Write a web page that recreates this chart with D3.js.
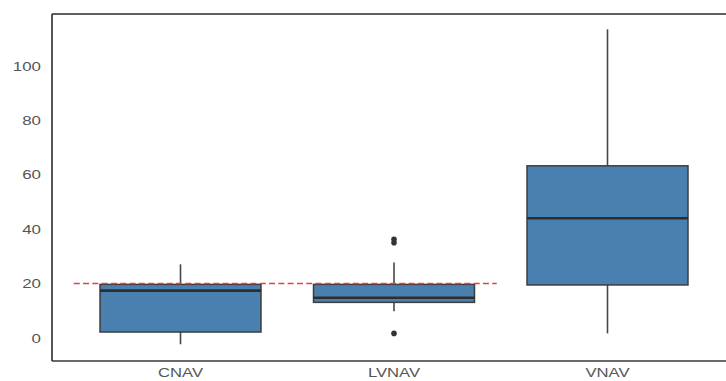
<!DOCTYPE html>
<html>
<head>
<meta charset="utf-8">
<script src="https://cdn.jsdelivr.net/npm/d3@7/dist/d3.min.js"></script>
<style>
  html, body { margin: 0; padding: 0; background: #fff; }
  svg { display: block; }
  text { font-family: "Liberation Sans", Arial, sans-serif; fill: #555; }
</style>
</head>
<body>
<script>
// Box-plot summaries per approach type
const categories = ["CNAV", "LVNAV", "VNAV"];
const whiskerLow  = [-2.3, 9.8, 1.7];
const q1          = [2.2, 13.1, 19.5];
const median      = [17.4, 14.8, 44.0];
const q3          = [19.7, 19.7, 63.3];
const whiskerHigh = [27.1, 27.8, 113.5];
const outliers    = [[], [1.7, 35.0, 36.3], []];
const yTicks      = [0, 20, 40, 60, 80, 100];
const threshold   = 20;
const thresholdCats = ["CNAV", "LVNAV"];

const W = 726, H = 381;
const frame = { left: 52, top: 14, bottom: 361, right: 726 };

const svg = d3.select("body").append("svg")
  .attr("width", W).attr("height", H);

const x = d3.scaleBand().domain(categories).range([73.75, 714.25]).padding(0);
const y = d3.scaleLinear().domain([0, 100]).range([338, 66]);

const boxW = x.bandwidth() * 0.754;

// widen label glyphs slightly (wide sans look)
function stretch(sel, k) {
  sel.each(function () {
    const w = this.getComputedTextLength();
    d3.select(this).attr("textLength", w * k).attr("lengthAdjust", "spacingAndGlyphs");
  });
}

// frame: left, top and bottom borders
svg.append("line").attr("x1", frame.left).attr("x2", frame.right)
  .attr("y1", frame.top).attr("y2", frame.top)
  .attr("stroke", "#2a2a2a").attr("stroke-width", 1.6);
svg.append("line").attr("x1", frame.left).attr("x2", frame.right)
  .attr("y1", frame.bottom).attr("y2", frame.bottom)
  .attr("stroke", "#6a6a6a").attr("stroke-width", 2);
svg.append("line").attr("x1", frame.left).attr("x2", frame.left)
  .attr("y1", frame.top).attr("y2", frame.bottom)
  .attr("stroke", "#2a2a2a").attr("stroke-width", 1.6);

// y axis labels (no tick marks)
const yAxis = d3.axisLeft(y).tickValues(yTicks).tickSize(0).tickPadding(0);
const gy = svg.append("g").attr("transform", `translate(41,0)`).call(yAxis);
gy.select(".domain").remove();
gy.selectAll("text").style("font-size", "13px").attr("fill", "#555").call(stretch, 1.3);

// x axis labels
const xAxis = d3.axisBottom(x).tickSize(0).tickPadding(0);
const gx = svg.append("g").attr("transform", `translate(0,368)`).call(xAxis);
gx.select(".domain").remove();
gx.selectAll("text").style("font-size", "13px").attr("fill", "#555").call(stretch, 1.28);

const stats = categories.map((c, i) => ({
  cat: c, lo: whiskerLow[i], q1: q1[i], med: median[i], q3: q3[i],
  hi: whiskerHigh[i], out: outliers[i]
}));

const g = svg.selectAll("g.box").data(stats).join("g").attr("class", "box");
const cx = d => x(d.cat) + x.bandwidth() / 2;

// whiskers
g.append("line")
  .attr("x1", cx).attr("x2", cx)
  .attr("y1", d => y(d.hi)).attr("y2", d => y(d.q3))
  .attr("stroke", "#474747").attr("stroke-width", 1.6);
g.append("line")
  .attr("x1", cx).attr("x2", cx)
  .attr("y1", d => y(d.q1)).attr("y2", d => y(d.lo))
  .attr("stroke", "#474747").attr("stroke-width", 1.6);

// boxes
g.append("rect")
  .attr("x", d => cx(d) - boxW / 2)
  .attr("width", boxW)
  .attr("y", d => y(d.q3))
  .attr("height", d => y(d.q1) - y(d.q3))
  .attr("fill", "#4a80b0")
  .attr("stroke", "#3d3d3d").attr("stroke-width", 1.5);

// medians
g.append("line")
  .attr("x1", d => cx(d) - boxW / 2).attr("x2", d => cx(d) + boxW / 2)
  .attr("y1", d => y(d.med)).attr("y2", d => y(d.med))
  .attr("stroke", "#2e2e2e").attr("stroke-width", 2.6);

// outliers
g.selectAll("circle").data(d => d.out.map(v => ({ cat: d.cat, v })))
  .join("circle")
  .attr("cx", cx).attr("cy", d => y(d.v)).attr("r", 2.8)
  .attr("fill", "#333");

// reference threshold line
const tx0 = x(thresholdCats[0]);
const tx1 = x(thresholdCats[1]) + x.bandwidth();
svg.append("line")
  .attr("x1", tx0).attr("x2", tx1 - 4)
  .attr("y1", y(threshold)).attr("y2", y(threshold))
  .attr("stroke", "#e0404f").attr("stroke-width", 1.5)
  .attr("stroke-dasharray", "6,3.3");
</script>
</body>
</html>
